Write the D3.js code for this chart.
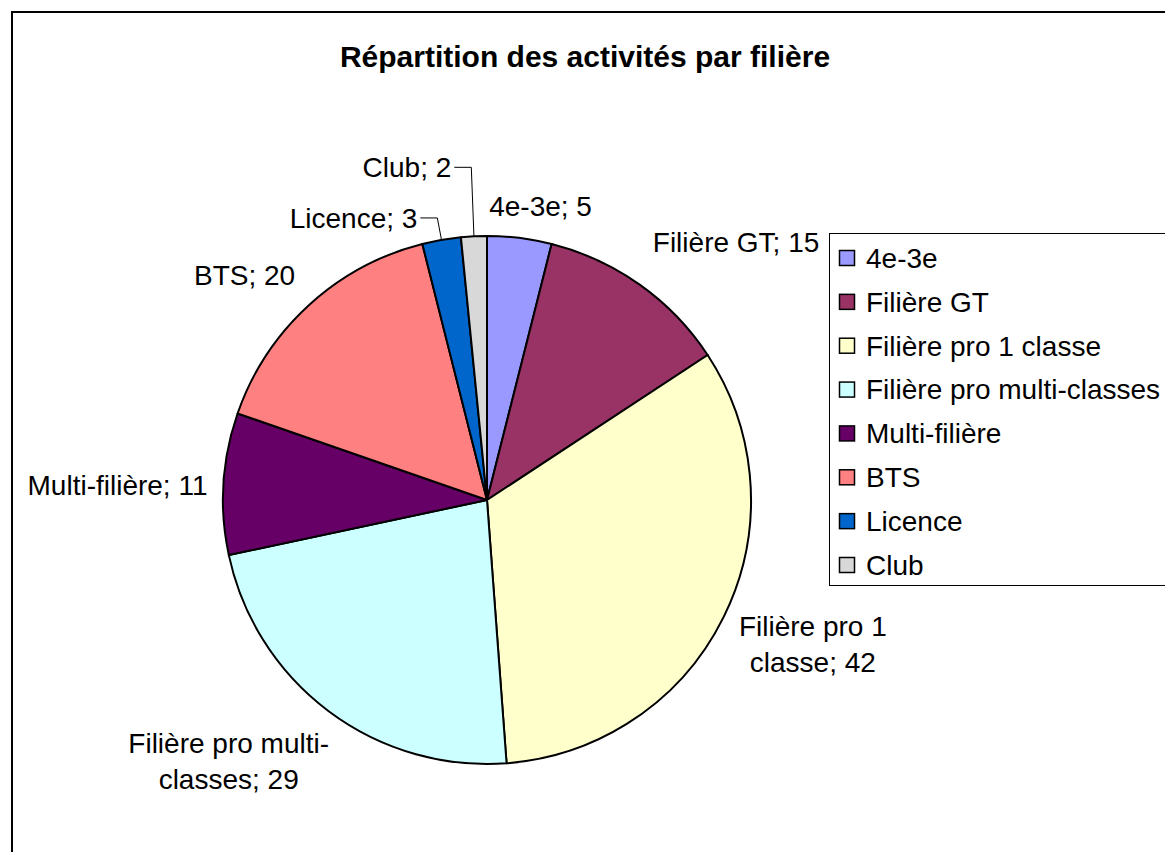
<!DOCTYPE html>
<html>
<head>
<meta charset="utf-8">
<script src="https://cdn.jsdelivr.net/npm/d3@7"></script>
<style>
  body { margin: 0; background: #fff; }
  svg { display: block; font-family: "Liberation Sans", Arial, sans-serif; }
</style>
</head>
<body>
<div id="vis"></div>
<script>
// data
var categories = ["4e-3e", "Filière GT", "Filière pro 1 classe", "Filière pro multi-classes",
                  "Multi-filière", "BTS", "Licence", "Club"];
var values = [5, 15, 42, 29, 11, 20, 3, 2];
var colors = ["#9999FF", "#993366", "#FFFFCC", "#CCFFFF", "#660066", "#FF8080", "#0066CC", "#D8D8D8"];
// data labels as they are broken over lines in the picture
var labelLines = [
    ["4e-3e; 5"],
    ["Filière GT; 15"],
    ["Filière pro 1", "classe; 42"],
    ["Filière pro multi-", "classes; 29"],
    ["Multi-filière; 11"],
    ["BTS; 20"],
    ["Licence; 3"],
    ["Club; 2"]
];

var width = 1165, height = 852;
var cx = 487, cy = 500, radius = 264;
var fontSize = 28, lineGap = 36;

// where excel put each label, relative to the slice edge point (layout only)
var labelNudge = [[21, -32], [96, -43], [89, 28], [-100, 50], [-106, 2], [-64, -30], [-88, -22], [-67, -69]];
var hasLeader = [false, false, false, false, false, false, true, true];

var svg = d3.select("#vis")
    .append("svg")
    .attr("width", width)
    .attr("height", height);

svg.append("rect")
    .attr("width", width).attr("height", height)
    .attr("fill", "#fff");

// outer frame, runs off the right and bottom edges
svg.append("rect")
    .attr("x", 12).attr("y", 12)
    .attr("width", 1300).attr("height", 1000)
    .attr("fill", "none")
    .attr("stroke", "#000")
    .attr("stroke-width", 2);

svg.append("text")
    .attr("x", 585).attr("y", 67)
    .attr("text-anchor", "middle")
    .attr("font-size", 30)
    .attr("font-weight", "bold")
    .text("Répartition des activités par filière");

var data = categories.map(function (c, i) {
    return {name: c, value: values[i], color: colors[i], lines: labelLines[i]};
});

var pie = d3.pie()
    .sort(null)
    .value(function (d) { return d.value; });

var arc = d3.arc()
    .innerRadius(0)
    .outerRadius(radius);

var arcs = pie(data);

var g = svg.append("g")
    .attr("transform", "translate(" + cx + "," + cy + ")");

g.selectAll("path")
    .data(arcs)
    .enter().append("path")
    .attr("d", arc)
    .attr("fill", function (d) { return d.data.color; })
    .attr("stroke", "#000")
    .attr("stroke-width", 2)
    .attr("stroke-linejoin", "round");

function edgePoint(d) {
    var a = (d.startAngle + d.endAngle) / 2;
    return [radius * Math.sin(a), -radius * Math.cos(a)];
}

// data labels
arcs.forEach(function (d, i) {
    var p = edgePoint(d);
    var lx = p[0] + labelNudge[i][0];
    var ly = p[1] + labelNudge[i][1];
    var n = d.data.lines.length;

    var t = g.append("text")
        .attr("text-anchor", "middle")
        .attr("font-size", fontSize)
        .attr("fill", "#000");
    d.data.lines.forEach(function (line, k) {
        t.append("tspan")
            .attr("x", lx)
            .attr("y", ly + (k - (n - 1) / 2) * lineGap + fontSize * 0.35)
            .text(line);
    });

    if (hasLeader[i]) {
        var w = t.node().getComputedTextLength();
        var xEnd = lx + w / 2;
        g.append("path")
            .attr("d", d3.line()([[xEnd + 3, ly], [xEnd + 20, ly], p]))
            .attr("fill", "none")
            .attr("stroke", "#000")
            .attr("stroke-width", 1);
    }
});

// legend
var legend = svg.append("g");
legend.append("rect")
    .attr("x", 829.5).attr("y", 233.5)
    .attr("width", 400).attr("height", 352)
    .attr("fill", "#fff")
    .attr("stroke", "#000")
    .attr("stroke-width", 1);

var rowY = d3.scalePoint()
    .domain(categories)
    .range([258, 565]);

var item = legend.selectAll("g.item")
    .data(data)
    .enter().append("g")
    .attr("class", "item")
    .attr("transform", function (d) { return "translate(0," + rowY(d.name) + ")"; });

item.append("rect")
    .attr("x", 839.5).attr("y", -7.5)
    .attr("width", 15).attr("height", 15)
    .attr("fill", function (d) { return d.color; })
    .attr("stroke", "#000")
    .attr("stroke-width", 1.5);

item.append("text")
    .attr("x", 866)
    .attr("y", fontSize * 0.35)
    .attr("font-size", fontSize)
    .text(function (d) { return d.name; });
</script>
</body>
</html>
